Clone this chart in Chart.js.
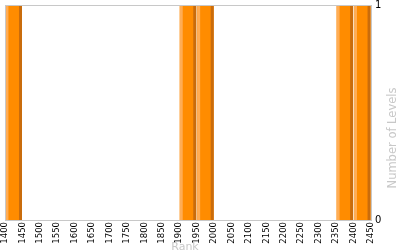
<!DOCTYPE html>
<html>
<head>
<meta charset="utf-8">
<script src="https://cdn.jsdelivr.net/npm/chart.js@4/dist/chart.umd.min.js"></script>
<style>
  html, body { margin: 0; padding: 0; background: #fff; }
  #wrap { width: 400px; height: 250px; position: relative; }
</style>
</head>
<body>
<div id="wrap"><canvas id="chartLevels"></canvas></div>
<script>
// ====== Datos ======
const rankBins = [1425, 1925, 1975, 2375, 2425];   // centro de cada intervalo de 50
const levelCounts = [1, 1, 1, 1, 1];
const rankTicks = [1400, 2450, 50];                 // min, max, paso
const levelTicks = [0, 1];

const FONT = 'DejaVu Sans';
const GRAY = '#c8c8c8';

// ====== Plugin: marco, bordes de barras y títulos ======
const decoPlugin = {
  id: 'deco',
  afterDatasetsDraw(chart) {
    const { ctx, chartArea: a } = chart;
    const meta = chart.getDatasetMeta(0);
    ctx.save();
    meta.data.forEach(bar => {
      const left = bar.x - bar.width / 2;
      const right = bar.x + bar.width / 2;
      const top = Math.min(bar.y, bar.base);
      const h = Math.abs(bar.base - bar.y);
      ctx.fillStyle = '#ffad55';
      ctx.fillRect(left, top, 3, h);
      ctx.fillStyle = '#c96c0c';
      ctx.fillRect(right - 3, top, 3, h);
    });

    // marco
    ctx.strokeStyle = GRAY;
    ctx.lineWidth = 1;
    ctx.strokeRect(Math.round(a.left) + 0.5, Math.round(a.top) + 0.5,
      Math.round(a.right - a.left), Math.round(a.bottom - a.top));

    // títulos
    ctx.fillStyle = GRAY;
    ctx.font = '11px "' + FONT + '"';
    ctx.textAlign = 'center';
    ctx.textBaseline = 'top';
    ctx.fillText('Rank', (a.left + a.right) / 2 - 3, 242);

    ctx.translate(399, 138);
    ctx.rotate(-Math.PI / 2);
    ctx.font = '11.5px "' + FONT + '"';
    ctx.textBaseline = 'bottom';
    ctx.fillText('Number of Levels', 0, 0);
    ctx.restore();
  }
};

new Chart(document.getElementById('chartLevels'), {
  type: 'bar',
  data: {
    datasets: [{
      label: 'Levels',
      data: rankBins.map((r, i) => ({ x: r, y: levelCounts[i] })),
      backgroundColor: '#ff8c00',
      borderWidth: 0,
      barPercentage: 1,
      categoryPercentage: 0.95
    }]
  },
  options: {
    responsive: true,
    maintainAspectRatio: false,
    animation: false,
    layout: { padding: { left: 5, top: 5, right: 0, bottom: 0 } },
    plugins: { legend: { display: false }, tooltip: { enabled: false } },
    scales: {
      x: {
        type: 'linear',
        offset: false,
        min: rankTicks[0],
        max: rankTicks[1],
        grid: { display: false, drawTicks: false },
        border: { display: false },
        ticks: {
          stepSize: rankTicks[2],
          autoSkip: false,
          minRotation: 90,
          maxRotation: 90,
          padding: 2,
          color: '#000',
          font: { family: FONT, size: 8.5 },
          callback: v => String(v)
        },
        afterFit(scale) {
          scale.height = 30;
          scale.paddingLeft = 0;
          scale.paddingRight = 0;
        }
      },
      y: {
        position: 'right',
        min: levelTicks[0],
        max: levelTicks[1],
        grid: { display: false, drawTicks: false },
        border: { display: false },
        ticks: {
          stepSize: 1,
          padding: 4,
          color: '#000',
          font: { family: FONT, size: 10 },
          callback: v => levelTicks.includes(v) ? String(v) : ''
        },
        afterFit(scale) {
          scale.width = 29;
          scale.paddingTop = 0;
          scale.paddingBottom = 0;
        }
      }
    }
  },
  plugins: [decoPlugin]
});
</script>
</body>
</html>
